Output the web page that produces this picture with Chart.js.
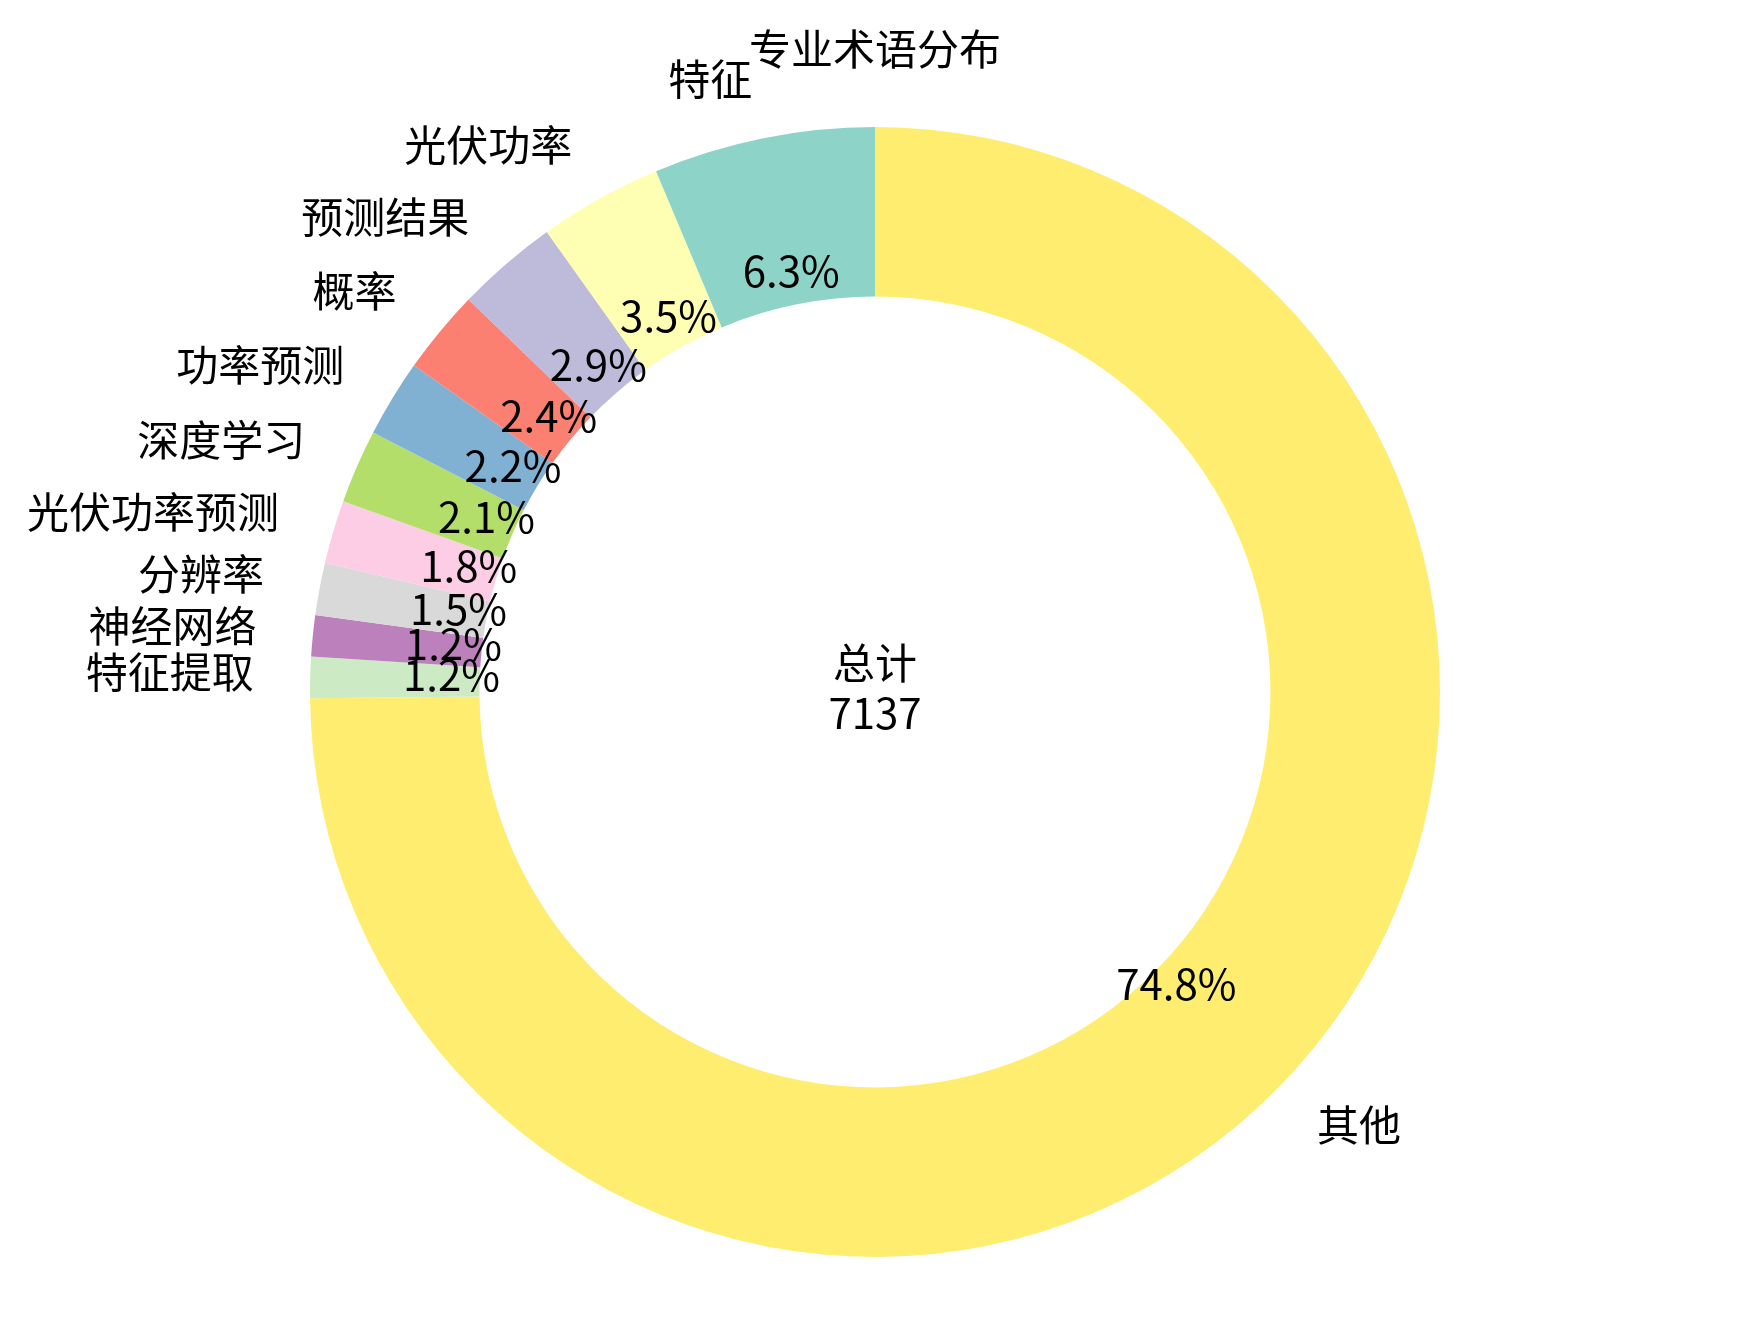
<!DOCTYPE html>
<html lang="zh">
<head>
<meta charset="utf-8">
<title>专业术语分布</title>
<script src="https://cdn.jsdelivr.net/npm/chart.js@4.4.1/dist/chart.umd.min.js"></script>
<style>
  html, body { margin: 0; padding: 0; background: #fff; }
  #wrap { width: 1739px; height: 1326px; position: relative; }
</style>
</head>
<body>
<div id="wrap"><canvas id="termChart"></canvas></div>
<script>
// data, in the order the slices run (counter-clockwise from the top)
const chartTitle = "专业术语分布";
const terms = ["特征", "光伏功率", "预测结果", "概率", "功率预测", "深度学习", "光伏功率预测", "分辨率", "神经网络", "特征提取", "其他"];
const counts = [452, 252, 208, 172, 158, 151, 129, 107, 84, 84, 5340];
const sliceColors = ["#8dd3c7", "#ffffb3", "#bebada", "#fb8072", "#80b1d3", "#b3de69", "#fccde5", "#d9d9d9", "#bc80bd", "#ccebc5", "#ffed6f"];
const totalCaption = "总计";

const total = counts.reduce((a, b) => a + b, 0);
const FONT = '42px "Noto Sans CJK SC", "Noto Sans", sans-serif';

// Chart.js goes clockwise, so feed it the slices back to front
const rev = (arr) => arr.slice().reverse();

const ringLabels = {
    id: "ringLabels",
    afterDraw(chart) {
        const ctx = chart.ctx;
        const meta = chart.getDatasetMeta(0);
        const names = chart.data.labels;
        const values = chart.data.datasets[0].data;

        ctx.save();
        ctx.font = FONT;
        ctx.fillStyle = "#000";
        ctx.textBaseline = "middle";

        let cx = 0, cy = 0;
        meta.data.forEach((arc, i) => {
            const p = arc.getProps(["x", "y", "startAngle", "endAngle", "outerRadius"], true);
            cx = p.x; cy = p.y;
            const mid = (p.startAngle + p.endAngle) / 2;
            const c = Math.cos(mid), s = Math.sin(mid);

            // term name outside the ring
            const lx = p.x + c * p.outerRadius * 1.1;
            const ly = p.y + s * p.outerRadius * 1.1;
            ctx.textAlign = c > 0 ? "left" : "right";
            ctx.fillText(names[i], lx, ly - 4);

            // share inside the ring
            const pct = (values[i] / total * 100).toFixed(1) + "%";
            ctx.textAlign = "center";
            ctx.fillText(pct, p.x + c * p.outerRadius * 0.75, p.y + s * p.outerRadius * 0.75 - 6);
        });

        // total in the hole
        ctx.textAlign = "center";
        ctx.fillText(totalCaption, cx, cy - 29);
        ctx.fillText(String(total), cx, cy + 21);

        // title
        ctx.fillText(chartTitle, cx, 49);
        ctx.restore();
    },
};

new Chart(document.getElementById("termChart"), {
    type: "doughnut",
    data: {
        labels: rev(terms),
        datasets: [
            {
                data: rev(counts),
                backgroundColor: rev(sliceColors),
                borderWidth: 0,
                hoverOffset: 0,
            },
        ],
    },
    options: {
        responsive: true,
        maintainAspectRatio: false,
        animation: false,
        cutout: "70%",
        layout: {
            padding: { top: 127, bottom: 69, left: 310, right: 299 },
        },
        plugins: {
            legend: { display: false },
            tooltip: { enabled: false },
        },
    },
    plugins: [ringLabels],
});
</script>
</body>
</html>
